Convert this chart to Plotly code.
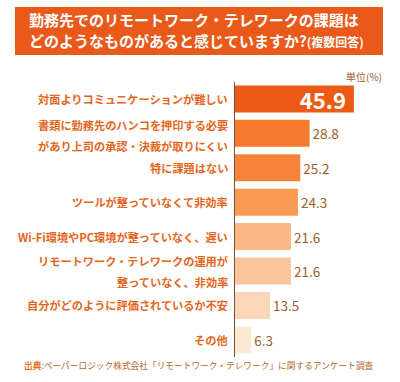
import plotly.graph_objects as go

categories = [
    "対面よりコミュニケーションが難しい",
    "書類に勤務先のハンコを押印する必要<br>があり上司の承認・決裁が取りにくい",
    "特に課題はない",
    "ツールが整っていなくて非効率",
    "Wi-Fi環境やPC環境が整っていなく、遅い",
    "リモートワーク・テレワークの運用が<br>整っていなく、非効率",
    "自分がどのように評価されているか不安",
    "その他",
]
values = [45.9, 28.8, 25.2, 24.3, 21.6, 21.6, 13.5, 6.3]

title_line1 = "勤務先でのリモートワーク・テレワークの課題は"
title_line2 = "どのようなものがあると感じていますか?"
title_note = "(複数回答)"
unit_text = "単位(%)"
source_head = "出典"
source_body = ":ペーパーロジック株式会社「リモートワーク・テレワーク」に関するアンケート調査"

W, H = 400, 382
FONT = "Noto Sans CJK JP"
bar_colors = ["#EC5A15", "#F47A2F", "#F5843A", "#F89A55",
              "#FAB886", "#FBC59B", "#FCD7B7", "#FDEAD5"]
label_color = "#E4661C"
value_color = "#A05C2C"

ids = list(range(len(categories)))

text_pos = ["inside"] + ["outside"] * (len(values) - 1)
text_colors = ["white"] + [value_color] * (len(values) - 1)
text_sizes = [22] + [13.5] * (len(values) - 1)

fig = go.Figure(go.Bar(
    x=values, y=ids, orientation="h",
    marker=dict(color=bar_colors, line=dict(width=0)),
    text=[f"<b>{v:.1f}</b>&nbsp;" if i == 0 else f"{v:.1f}" for i, v in enumerate(values)],
    textposition=text_pos,
    insidetextanchor="end",
    constraintext="none",
    textfont=dict(color=text_colors, size=text_sizes, family=FONT),
    cliponaxis=False,
    hoverinfo="skip",
))

px_per_unit = 2.59
x0_px = 235
fig.update_xaxes(domain=[x0_px / W, 1], range=[0, (W - x0_px) / px_per_unit],
                 visible=False, fixedrange=True)
top_px, bottom_px = 81.7, 357.1
fig.update_yaxes(domain=[1 - bottom_px / H, 1 - top_px / H],
                 range=[len(values) - 0.5, -0.5],
                 showticklabels=False, showgrid=False, zeroline=False,
                 showline=True, linecolor="#7E4E2C", linewidth=1,
                 fixedrange=True)

annotations = []
for i, cat in enumerate(categories):
    lines = cat.split("<br>")
    n = len(lines)
    for j, line in enumerate(lines):
        shift = ((n - 1) / 2 - j) * 21
        if n > 1 and i == 1:
            shift -= 2.5
        annotations.append(dict(
            x=0, xref="x", y=i, yref="y", text=f"<b>{line}</b>",
            xanchor="right", yanchor="middle", xshift=-5, yshift=shift,
            showarrow=False, font=dict(family=FONT, size=11.2, color=label_color),
        ))

# title
fig.add_shape(type="rect", xref="paper", yref="paper",
              x0=15 / W, x1=383 / W, y0=1 - 55 / H, y1=1 - 7 / H,
              fillcolor="#E8591A", line=dict(width=0), layer="below")
annotations.append(dict(x=27 / W, y=1 - 20 / H, xref="paper", yref="paper",
                        text=f"<b>{title_line1}</b>", xanchor="left", yanchor="middle",
                        showarrow=False, font=dict(family=FONT, size=15, color="white")))
annotations.append(dict(x=27 / W, y=1 - 40 / H, xref="paper", yref="paper",
                        text=f"<b>{title_line2}<span style='font-size:12px'>{title_note}</span></b>",
                        xanchor="left", yanchor="middle",
                        showarrow=False, font=dict(family=FONT, size=15, color="white")))
annotations.append(dict(x=384 / W, y=1 - 76 / H, xref="paper", yref="paper",
                        text=unit_text, xanchor="right", yanchor="middle",
                        showarrow=False, font=dict(family=FONT, size=10, color=value_color)))
annotations.append(dict(x=22 / W, y=1 - 365 / H, xref="paper", yref="paper",
                        text=f"<b><span style='color:#E8731E'>{source_head}</span></b>{source_body}",
                        xanchor="left", yanchor="middle",
                        showarrow=False, font=dict(family=FONT, size=8.7, color="#B4672C")))

fig.update_layout(
    width=W, height=H,
    margin=dict(l=0, r=0, t=0, b=0),
    paper_bgcolor="white", plot_bgcolor="white",
    bargap=0.215, showlegend=False,
    annotations=annotations,
    font=dict(family=FONT),
)

fig.write_html(
    "out.html",
    config={"displayModeBar": False},
    post_script="document.body.style.margin='0';document.body.style.padding='0';document.body.style.overflow='hidden';",
)
